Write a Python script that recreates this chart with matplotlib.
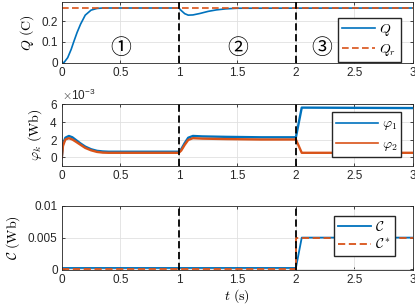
import matplotlib
matplotlib.use('Agg')
import matplotlib.pyplot as plt
from matplotlib.ticker import ScalarFormatter

# data
#------------------------------------------------------------------------------
t_q = [0, 0.02, 0.05, 0.08, 0.1, 0.13, 0.16, 0.2, 0.25, 0.3, 0.35, 1.0,
       1.02, 1.05, 1.08, 1.12, 1.18, 1.25, 1.32, 1.4, 1.5, 3.0]
q = [0, 0.003, 0.025, 0.065, 0.098, 0.145, 0.185, 0.228, 0.252, 0.26, 0.262,
     0.262, 0.25, 0.235, 0.228, 0.229, 0.236, 0.246, 0.253, 0.258, 0.261, 0.262]
t_qr = [0, 3]
q_r = [0.262, 0.262]

t_phi = [0, 0.01, 0.03, 0.06, 0.09, 0.12, 0.16, 0.2, 0.25, 0.3, 0.35, 0.4,
         1.0, 1.02, 1.05, 1.08, 1.12, 1.2, 1.4, 1.7, 2.0, 2.05, 3.0]
phi1 = [0, 1.5e-3, 2.2e-3, 2.4e-3, 2.25e-3, 1.95e-3, 1.55e-3, 1.2e-3, 0.9e-3,
        0.72e-3, 0.65e-3, 0.62e-3, 0.62e-3, 0.9e-3, 1.6e-3, 2.2e-3, 2.4e-3,
        2.35e-3, 2.3e-3, 2.25e-3, 2.25e-3, 5.6e-3, 5.55e-3]
phi2 = [0, 1.3e-3, 2.0e-3, 2.15e-3, 2.0e-3, 1.75e-3, 1.4e-3, 1.05e-3, 0.78e-3,
        0.6e-3, 0.52e-3, 0.5e-3, 0.5e-3, 0.75e-3, 1.4e-3, 1.95e-3, 2.15e-3,
        2.1e-3, 2.05e-3, 2.0e-3, 2.0e-3, 0.5e-3, 0.5e-3]

t_c = [0, 2.0, 2.05, 3.0]
c = [0.0002, 0.0002, 0.005, 0.005]
t_cref = [0, 2.0, 2.0, 3.0]
c_ref = [0, 0, 0.005, 0.005]

stage_labels = ['\u2460', '\u2461', '\u2462']
stage_x = [0.5, 1.5, 2.22]
#------------------------------------------------------------------------------

plt.rcParams['font.family'] = 'Liberation Sans'
plt.rcParams['font.size'] = 8.5
plt.rcParams['mathtext.fontset'] = 'cm'

blue = '#0072BD'
orange = '#D95319'
spine = '#262626'

fig = plt.figure(figsize=(4.15, 3.07), dpi=100)
ax1 = fig.add_axes([0.149, 0.795, 0.846, 0.198])
ax2 = fig.add_axes([0.149, 0.459, 0.846, 0.202])
ax3 = fig.add_axes([0.149, 0.121, 0.846, 0.208])

leg_kw = dict(fontsize=10, fancybox=False, edgecolor=spine, framealpha=1,
              borderpad=0.3, labelspacing=0.3, handletextpad=0.3,
              handlelength=2.4)

# top: charge
ax1.plot(t_q, q, color=blue, lw=1.2, label=r'$Q$')
ax1.plot(t_qr, q_r, color=orange, lw=1.2, ls=(0, (4, 2)), label=r'$Q_r$')
ax1.set_ylim(0, 0.29)
ax1.set_yticks([0, 0.1, 0.2])
ax1.set_yticklabels(['0', '0.1', '0.2'])
ax1.set_ylabel(r'$Q\ \mathrm{(C)}$', fontsize=10)
for lab, xs in zip(stage_labels, stage_x):
    ax1.text(xs, 0.07, lab, ha='center', va='center', fontsize=15,
             family=['DejaVu Serif', 'Noto Sans CJK SC'])
ax1.legend(loc='upper right', bbox_to_anchor=(0.985, 0.86), **leg_kw)

# middle: flux
ax2.plot(t_phi, phi1, color=blue, lw=1.7, label=r'$\varphi_1$')
ax2.plot(t_phi, phi2, color=orange, lw=1.7, label=r'$\varphi_2$')
ax2.set_ylim(-1e-3, 6e-3)
ax2.set_yticks([0, 2e-3, 4e-3, 6e-3])
fmt = ScalarFormatter(useMathText=True)
fmt.set_powerlimits((-3, -3))
ax2.yaxis.set_major_formatter(fmt)
ax2.set_ylabel(r'$\varphi_k\ \mathrm{(Wb)}$', fontsize=10)
leg2 = ax2.legend(loc='center right', bbox_to_anchor=(0.987, 0.51),
                  **dict(leg_kw, handlelength=3.0))
for ln in leg2.get_lines():
    ln.set_linewidth(1.2)

# bottom: C
ax3.plot(t_c, c, color=blue, lw=1.3, label=r'$\mathcal{C}$')
ax3.plot(t_cref, c_ref, color=orange, lw=1.3, ls=(0, (4, 2)),
         label=r'$\mathcal{C}^*$')
ax3.set_ylim(-0.0001, 0.01)
ax3.set_yticks([0, 0.005, 0.01])
ax3.set_yticklabels(['0', '0.005', '0.01'])
ax3.set_ylabel(r'$\mathcal{C}\ \mathrm{(Wb)}$', fontsize=10)
ax3.set_xlabel(r'$t\ \mathrm{(s)}$', fontsize=10, labelpad=1)
ax3.legend(loc='center right', bbox_to_anchor=(0.97, 0.53), **leg_kw)

for ax in (ax1, ax2, ax3):
    ax.axvline(1, color='k', ls=(0, (4, 2)), lw=1.3, zorder=5)
    ax.axvline(2, color='k', ls=(0, (4, 2)), lw=1.3, zorder=5)
    ax.set_xlim(0, 3)
    ax.set_xticks([0, 0.5, 1, 1.5, 2, 2.5, 3])
    ax.set_xticklabels(['0', '0.5', '1', '1.5', '2', '2.5', '3'])
    ax.grid(True, color='#e0e0e0', lw=0.6)
    ax.set_axisbelow(True)
    ax.tick_params(direction='in', top=True, right=True, length=2.5,
                   width=0.6, colors=spine, pad=3)
    for s in ax.spines.values():
        s.set_color(spine)
        s.set_linewidth(0.6)

fig.align_ylabels([ax1, ax2, ax3])
fig.savefig('out.png', dpi=100)
